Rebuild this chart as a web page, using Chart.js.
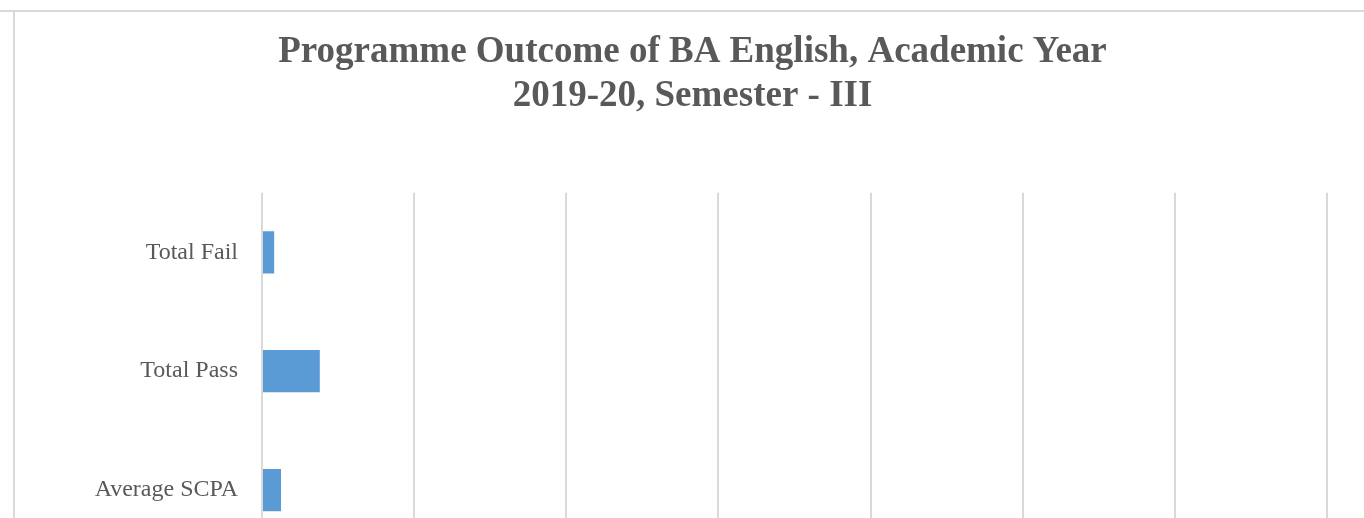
<!DOCTYPE html>
<html>
<head>
<meta charset="utf-8">
<script src="https://cdn.jsdelivr.net/npm/chart.js@4"></script>
<style>
  html, body { margin: 0; padding: 0; background: #fff; overflow: hidden; width: 1364px; height: 518px; }
  .topline { position: absolute; left: 0; top: 10px; width: 1364px; height: 2px; background: #d9d9d9; }
  .frame { position: absolute; left: 13px; top: 10px; width: 1400px; height: 700px; border-left: 2px solid #d9d9d9; }
  .wrap { position: absolute; left: 0; top: 2px; width: 1355px; height: 576px; }
</style>
</head>
<body>
<div class="topline"></div>
<div class="frame">
  <div class="wrap"><canvas id="chart"></canvas></div>
</div>
<script>
// data
const categories = ["Total Fail", "Total Pass", "Average SCPA"];
const values = [4, 19, 6.25];
const axisMin = 0;
const axisMax = 350;
const axisStep = 50;
const titleLines = ["Programme Outcome of BA English, Academic Year", "2019-20, Semester - III"];

const serif = "'Liberation Serif', 'Times New Roman', serif";

const ctx = document.getElementById("chart");
new Chart(ctx, {
  type: "bar",
  data: {
    labels: categories,
    datasets: [
      {
        label: "Value",
        data: values,
        backgroundColor: "#5b9bd5",
        borderWidth: 0,
        categoryPercentage: 1,
        barPercentage: 0.355,
      },
    ],
  },
  options: {
    indexAxis: "y",
    responsive: true,
    maintainAspectRatio: false,
    animation: false,
    layout: { padding: { left: 43, right: 43, top: 0, bottom: 0 } },
    plugins: {
      legend: { display: false },
      tooltip: { enabled: false },
      title: {
        display: true,
        text: titleLines,
        color: "#595959",
        font: { family: serif, size: 37, weight: "bold", lineHeight: 1.2 },
        padding: { top: 18, bottom: 74 },
      },
    },
    scales: {
      x: {
        min: axisMin,
        max: axisMax,
        ticks: { display: false, stepSize: axisStep },
        grid: { color: "#d9d9d9", lineWidth: 2, drawTicks: false },
        border: { display: false },
      },
      y: {
        grid: { display: false, drawTicks: false },
        border: { display: false },
        ticks: {
          color: "#595959",
          padding: 24,
          font: { family: serif, size: 24 },
        },
        afterFit: (scale) => {
          scale.width = 204;
        },
      },
    },
  },
});
</script>
</body>
</html>
